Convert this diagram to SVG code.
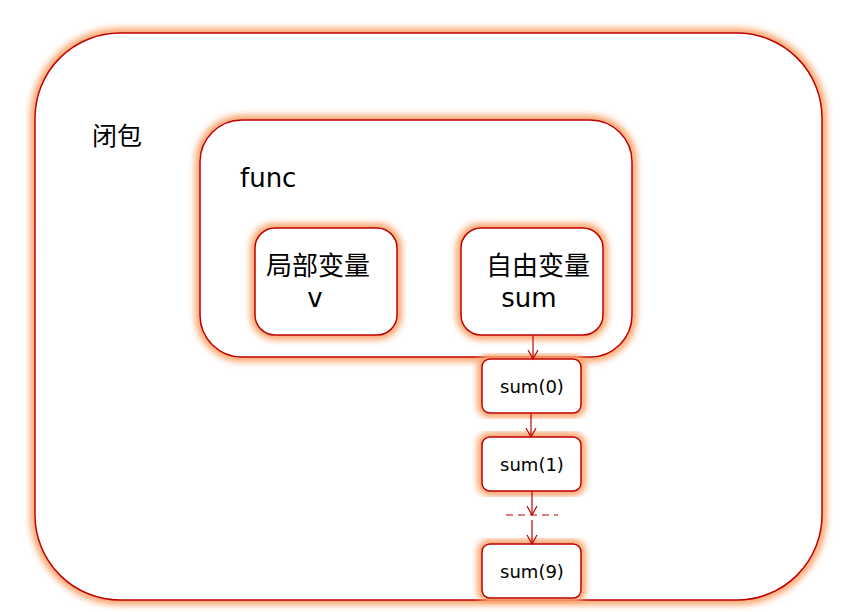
<svg xmlns="http://www.w3.org/2000/svg" width="851" height="612" viewBox="0 0 851 612">
<defs>
<filter id="glow" x="-10%" y="-10%" width="120%" height="120%">
<feGaussianBlur stdDeviation="3"/>
</filter>
<marker id="arr" markerWidth="12" markerHeight="12" refX="10" refY="6" orient="auto" markerUnits="userSpaceOnUse" viewBox="0 0 12 12">
<path d="M1,1 L10,6 L1,11" fill="none" stroke="#c00000" stroke-width="1.2"/>
</marker>
</defs>
<style>
.g{fill:none;stroke:#f9a66e;stroke-width:10;filter:url(#glow)}
.b{fill:#fff;stroke:#c00000;stroke-width:1.5}
.t{font-family:"DejaVu Sans","Noto Sans CJK SC",sans-serif;fill:#000}
.c{stroke:#c00000;stroke-width:1.2;fill:none}
</style>
<rect width="851" height="612" fill="#fff"/>
<g id="closure">
<rect class="g" x="35" y="33" width="787" height="567" rx="85"/>
<rect class="b" x="35" y="33" width="787" height="567" rx="85"/>
<text class="t" x="92" y="145" font-size="25">闭包</text>
</g>
<g id="func">
<rect class="g" x="200" y="120" width="432" height="237" rx="42"/>
<rect class="b" x="200" y="120" width="432" height="237" rx="42"/>
<text class="t" x="240" y="187" font-size="26">func</text>
</g>
<g id="local">
<rect class="g" x="255" y="228" width="142" height="107" rx="20"/>
<rect class="b" x="255" y="228" width="142" height="107" rx="20"/>
<text class="t" x="318" y="275" font-size="26" text-anchor="middle">局部变量</text>
<text class="t" x="315" y="307" font-size="26" text-anchor="middle">v</text>
</g>
<g id="free">
<rect class="g" x="461" y="228" width="142" height="107" rx="20"/>
<rect class="b" x="461" y="228" width="142" height="107" rx="20"/>
<text class="t" x="538" y="275" font-size="26" text-anchor="middle">自由变量</text>
<text class="t" x="529" y="307" font-size="26" text-anchor="middle">sum</text>
</g>
<g id="sum0">
<rect class="g" x="482" y="359" width="99" height="54" rx="8"/>
<rect class="b" x="482" y="359" width="99" height="54" rx="8"/>
<text class="t" x="532" y="393" font-size="18" text-anchor="middle">sum(0)</text>
</g>
<g id="sum1">
<rect class="g" x="482" y="437" width="99" height="54" rx="8"/>
<rect class="b" x="482" y="437" width="99" height="54" rx="8"/>
<text class="t" x="532" y="471" font-size="18" text-anchor="middle">sum(1)</text>
</g>
<g id="sum9">
<rect class="g" x="482" y="544" width="99" height="54" rx="8"/>
<rect class="b" x="482" y="544" width="99" height="54" rx="8"/>
<text class="t" x="532" y="578" font-size="18" text-anchor="middle">sum(9)</text>
</g>
<g id="connectors">
<line class="c" x1="533" y1="335" x2="533" y2="359" marker-end="url(#arr)"/>
<line class="c" x1="531" y1="413" x2="531" y2="437" marker-end="url(#arr)"/>
<line class="c" x1="532" y1="491" x2="532" y2="515" marker-end="url(#arr)"/>
<line class="c" x1="506" y1="515" x2="558" y2="515" stroke-dasharray="7,5"/>
<line class="c" x1="532" y1="520" x2="532" y2="544" marker-end="url(#arr)"/>
</g>
</svg>
